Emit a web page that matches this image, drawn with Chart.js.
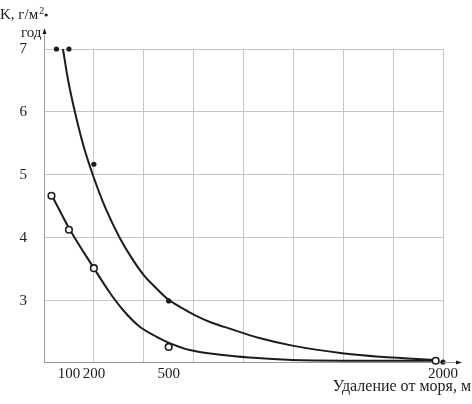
<!DOCTYPE html>
<html>
<head>
<meta charset="utf-8">
<script src="https://cdn.jsdelivr.net/npm/chart.js@4.4.1/dist/chart.umd.min.js"></script>
<style>
  html, body { margin: 0; padding: 0; background: #fff; }
  #wrap { width: 472px; height: 404px; position: relative; }
</style>
</head>
<body>
<div id="wrap"><canvas id="c" width="472" height="404"></canvas></div>
<script>
// ---- data ----
const filledDistances = [50, 100, 200, 500, 2000];
const filledValues    = [7.0, 7.0, 5.17, 3.0, 2.03];
const openDistances   = [30, 100, 200, 500, 1960];
const openValues      = [4.67, 4.13, 3.52, 2.27, 2.05];

const upperCurveDistances = [76, 96, 124, 160, 196, 248, 304, 352, 400, 448, 496, 571, 653, 740, 833, 996, 1176, 1449, 1722, 1962];
const upperCurveValues    = [7.0, 6.52, 6.0, 5.44, 5.0, 4.46, 4.0, 3.68, 3.41, 3.21, 3.03, 2.89, 2.76, 2.65, 2.56, 2.41, 2.29, 2.17, 2.10, 2.06];
const lowerCurveDistances = [32, 104, 200, 264, 316, 384, 452, 505, 615, 795, 942, 1176, 1450, 1962];
const lowerCurveValues    = [4.67, 4.13, 3.52, 3.13, 2.86, 2.59, 2.43, 2.33, 2.22, 2.14, 2.10, 2.06, 2.05, 2.05];

const xTickLabels = [100, 200, 500, 2000];
const yTickValues = [3, 4, 5, 6, 7];
const yAxisLabelLine1 = 'K, г/м';
const yAxisLabelSup = '2';
const yAxisLabelLine2 = 'год';
const xAxisLabel = 'Удаление от моря, м';

// broken (piecewise-linear) distance axis: distance -> grid units
const axisBreakDistances = [0, 500, 2000];
const axisBreakUnits     = [0, 2.5, 8];
const gridUnitCount = 8;

function toAxis(d) {
  for (let i = 1; i < axisBreakDistances.length; i++) {
    const d0 = axisBreakDistances[i - 1], d1 = axisBreakDistances[i];
    if (d <= d1 || i === axisBreakDistances.length - 1) {
      const u0 = axisBreakUnits[i - 1], u1 = axisBreakUnits[i];
      return u0 + (d - d0) / (d1 - d0) * (u1 - u0);
    }
  }
  return 0;
}
const pts = (ds, vs) => ds.map((d, i) => ({ x: toAxis(d), y: vs[i] }));

const INK = '#1c1c1c';
const GRID = '#c6c6c6';
const SERIF = '"Liberation Serif", "DejaVu Serif", serif';

const decor = {
  id: 'decor',
  afterDraw(chart) {
    const ctx = chart.ctx;
    const a = chart.chartArea;
    ctx.save();
    // axis extensions with arrowheads
    ctx.strokeStyle = '#9a9a9a';
    ctx.lineWidth = 1;
    ctx.beginPath();
    ctx.moveTo(a.left + 0.5, a.top);
    ctx.lineTo(a.left + 0.5, a.top - 18);
    ctx.moveTo(a.right, a.bottom + 0.5);
    ctx.lineTo(a.right + 16, a.bottom + 0.5);
    ctx.stroke();
    ctx.fillStyle = INK;
    ctx.beginPath();
    ctx.moveTo(a.left + 0.5, a.top - 21);
    ctx.lineTo(a.left - 1.5, a.top - 15);
    ctx.lineTo(a.left + 2.5, a.top - 15);
    ctx.closePath();
    ctx.fill();
    ctx.beginPath();
    ctx.moveTo(a.right + 19, a.bottom + 0.5);
    ctx.lineTo(a.right + 13, a.bottom - 1.5);
    ctx.lineTo(a.right + 13, a.bottom + 2.5);
    ctx.closePath();
    ctx.fill();

    // y axis label
    ctx.fillStyle = INK;
    ctx.textBaseline = 'alphabetic';
    ctx.textAlign = 'left';
    ctx.font = '15px ' + SERIF;
    ctx.fillText(yAxisLabelLine1, 0, 19);
    const w1 = ctx.measureText(yAxisLabelLine1).width;
    ctx.font = '10px ' + SERIF;
    ctx.fillText(yAxisLabelSup, w1 + 1, 14);
    ctx.beginPath();
    ctx.arc(w1 + 8, 15, 1.6, 0, Math.PI * 2);
    ctx.fill();
    ctx.font = '15px ' + SERIF;
    ctx.fillText(yAxisLabelLine2, 21, 37);

    // x axis label
    ctx.textAlign = 'right';
    ctx.textBaseline = 'middle';
    ctx.font = '16px ' + SERIF;
    ctx.fillText(xAxisLabel, 471, 387);
    ctx.restore();
  }
};

new Chart(document.getElementById('c'), {
  type: 'scatter',
  data: {
    datasets: [
      { label: 'filled', data: pts(filledDistances, filledValues), showLine: false,
        pointRadius: 2.6, pointBackgroundColor: INK, pointBorderColor: INK, pointBorderWidth: 0, clip: false },
      { label: 'open', data: pts(openDistances, openValues), showLine: false,
        pointRadius: 3.3, pointBackgroundColor: '#fff', pointBorderColor: INK, pointBorderWidth: 1.6, clip: false },
      { label: 'upper', data: pts(upperCurveDistances, upperCurveValues), showLine: true,
        borderColor: INK, borderWidth: 2, pointRadius: 0, cubicInterpolationMode: 'monotone', clip: false },
      { label: 'lower', data: pts(lowerCurveDistances, lowerCurveValues), showLine: true,
        borderColor: INK, borderWidth: 2, pointRadius: 0, cubicInterpolationMode: 'monotone', clip: false }
    ]
  },
  options: {
    responsive: false,
    animation: false,
    events: [],
    layout: { padding: { left: 0, top: 49, right: 29, bottom: 0 } },
    plugins: { legend: { display: false }, tooltip: { enabled: false }, title: { display: false } },
    scales: {
      x: {
        type: 'linear',
        min: 0,
        max: gridUnitCount,
        afterFit(scale) { scale.height = 42; },
        afterBuildTicks(scale) {
          const vals = [];
          for (let u = 0; u <= gridUnitCount; u++) vals.push(u);
          xTickLabels.forEach(d => vals.push(toAxis(d)));
          const uniq = [...new Set(vals.map(v => Math.round(v * 1e6) / 1e6))].sort((p, q) => p - q);
          scale.ticks = uniq.map(v => ({ value: v }));
        },
        grid: {
          color: c => (c.tick && Number.isInteger(c.tick.value) && c.tick.value > 0) ? GRID : 'rgba(0,0,0,0)',
          drawTicks: false,
          lineWidth: 1
        },
        border: { display: true, color: '#9a9a9a' },
        ticks: {
          autoSkip: false,
          maxRotation: 0,
          padding: 3,
          color: INK,
          font: { family: SERIF, size: 15 },
          callback(value) {
            const hit = xTickLabels.find(d => Math.abs(toAxis(d) - value) < 1e-4);
            return hit !== undefined ? String(hit) : '';
          }
        }
      },
      y: {
        type: 'linear',
        min: 2.03,
        max: 7,
        afterFit(scale) { scale.width = 44; },
        afterBuildTicks(scale) { scale.ticks = yTickValues.map(v => ({ value: v })); },
        grid: { color: GRID, drawTicks: false, lineWidth: 1 },
        border: { display: true, color: '#9a9a9a' },
        ticks: {
          padding: 17,
          color: INK,
          font: { family: SERIF, size: 15 },
          callback: v => String(v)
        }
      }
    }
  },
  plugins: [decor]
});
</script>
</body>
</html>
